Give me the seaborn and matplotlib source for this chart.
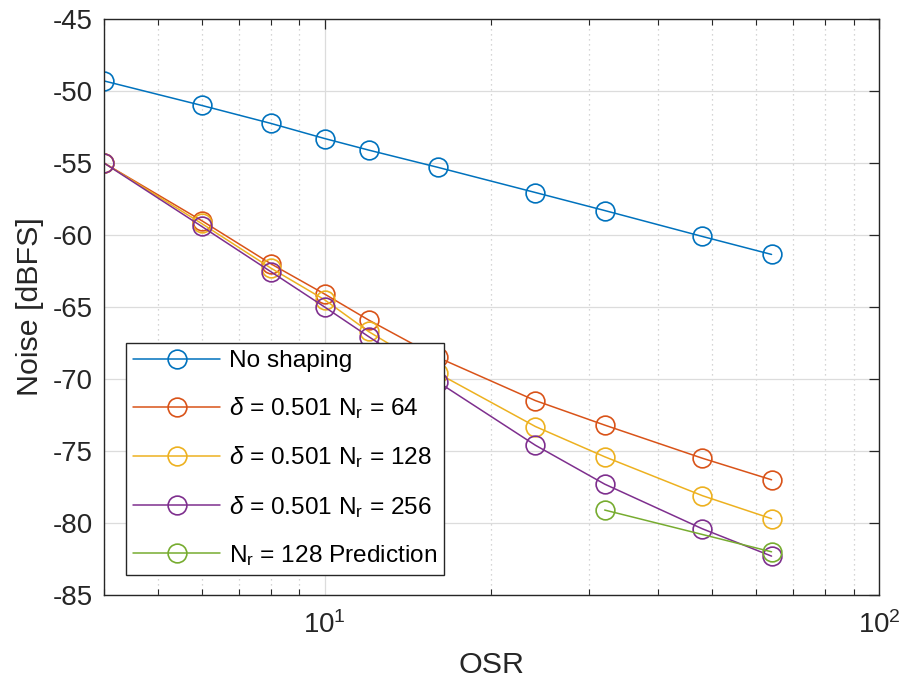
import numpy as np
import pandas as pd
import matplotlib
matplotlib.use("Agg")
import matplotlib.pyplot as plt
import seaborn as sns
from matplotlib.ticker import LogLocator, NullFormatter, FixedLocator

# ---- data ----
osr = [4, 6, 8, 10, 12, 16, 24, 32, 48, 64]
no_shaping = [-49.3, -51.0, -52.25, -53.3, -54.1, -55.3, -57.05, -58.3, -60.1, -61.35]
nr64 = [-55.0, -59.0, -62.0, -64.1, -65.9, -68.5, -71.5, -73.2, -75.5, -77.0]
nr128 = [-55.0, -59.2, -62.3, -64.5, -66.7, -69.6, -73.3, -75.4, -78.1, -79.7]
nr256 = [-55.0, -59.4, -62.55, -65.0, -67.05, -70.2, -74.6, -77.3, -80.4, -82.3]
pred_osr = [32, 64]
pred_nr128 = [-79.1, -82.0]

labels = ["No shaping",
          r"$\delta$ = 0.501 N$_\mathrm{r}$ = 64",
          r"$\delta$ = 0.501 N$_\mathrm{r}$ = 128",
          r"$\delta$ = 0.501 N$_\mathrm{r}$ = 256",
          r"N$_\mathrm{r}$ = 128 Prediction"]
colors = ["#0072BD", "#D95319", "#EDB120", "#7E2F8E", "#77AC30"]

series = [(osr, no_shaping), (osr, nr64), (osr, nr128), (osr, nr256), (pred_osr, pred_nr128)]

sns.set_style("white")
plt.rcParams["font.family"] = ["Liberation Sans", "DejaVu Sans"]
plt.rcParams["mathtext.fontset"] = "custom"
plt.rcParams["mathtext.rm"] = "Liberation Sans"
plt.rcParams["mathtext.it"] = "Liberation Sans:italic"
plt.rcParams["mathtext.bf"] = "Liberation Sans:bold"
plt.rcParams["axes.unicode_minus"] = False

fig = plt.figure(figsize=(9.04, 6.9), dpi=100)
ax = fig.add_axes([104 / 904, 95 / 690, 775 / 904, 576 / 690])

for (xs, ys), lab, c in zip(series, labels, colors):
    df = pd.DataFrame({"OSR": xs, "Noise": ys})
    sns.lineplot(data=df, x="OSR", y="Noise", ax=ax, color=c, linewidth=1.1,
                 marker="o", markersize=13.5, markerfacecolor="none",
                 markeredgecolor=c, markeredgewidth=1.2, label=lab, sort=False,
                 legend=False)

ax.set_xscale("log")
ax.set_xlim(4, 100)
ax.set_ylim(-85, -45)
ax.set_yticks(np.arange(-85, -44, 5))
ax.xaxis.set_major_locator(FixedLocator([10, 100]))
ax.xaxis.set_minor_locator(LogLocator(base=10, subs=np.arange(2, 10), numticks=20))
ax.xaxis.set_minor_formatter(NullFormatter())

axcol = "#262626"
for s in ax.spines.values():
    s.set_color(axcol)
    s.set_linewidth(1.0)
    s.set_visible(True)

ax.tick_params(axis="both", which="major", direction="in", length=7, width=0.9,
               colors=axcol, labelsize=19.9, top=True, right=True, pad=8)
ax.tick_params(axis="x", which="minor", direction="in", length=4, width=0.8,
               colors=axcol, top=True, bottom=True)
ax.tick_params(axis="x", which="major", pad=12)

ax.grid(True, which="major", axis="both", color="#DCDCDC", linestyle="-", linewidth=0.9)
ax.grid(True, which="minor", axis="x", color="#C8C8C8", linestyle=(0, (1, 3)), linewidth=0.9)
ax.set_axisbelow(True)

ax.set_xlabel("OSR", fontsize=21.9, color=axcol, labelpad=8)
ax.set_ylabel("Noise [dBFS]", fontsize=21.9, color=axcol, labelpad=6)

handles, labs = ax.get_legend_handles_labels()
leg = ax.legend(handles, labs, loc="lower left", bbox_to_anchor=(0.0284, 0.0347),
                borderaxespad=0, fontsize=17.6, frameon=True, fancybox=False,
                framealpha=1, edgecolor=axcol, handlelength=3.55, handletextpad=0.35,
                labelspacing=0.95, borderpad=0.3)
leg.get_frame().set_linewidth(1.0)
for t in leg.get_texts():
    t.set_color("black")

fig.savefig("out.png", dpi=100, facecolor="white")
